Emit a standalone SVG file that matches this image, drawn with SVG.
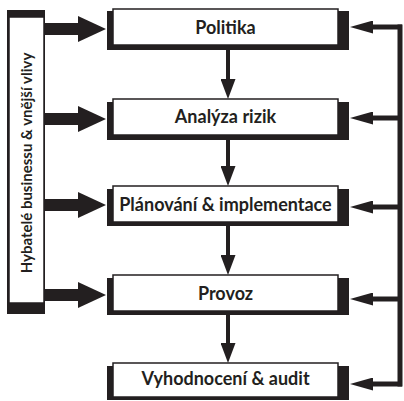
<svg xmlns="http://www.w3.org/2000/svg" width="404" height="401" viewBox="0 0 404 401">
  <style>
    .back { fill: #231f20; }
    .face { fill: #ffffff; stroke: #231f20; stroke-width: 1.5; }
    .lbl { font-family: Lato, "Open Sans", "Liberation Sans", sans-serif; font-weight: bold; font-size: 18px; fill: #231f20; text-anchor: middle; }
    .side { font-size: 15px; }
    .drive { stroke: #231f20; stroke-width: 12; fill: none; marker-end: url(#bigHead); }
    .flow { stroke: #231f20; stroke-width: 4; fill: none; marker-end: url(#downHead); }
    .loop { stroke: #231f20; stroke-width: 5; fill: none; }
    .back-arrow { stroke: #231f20; stroke-width: 5; fill: none; marker-end: url(#smallHead); }
  </style>
  <defs>
    <marker id="bigHead" markerUnits="userSpaceOnUse" viewBox="0 0 28 26" markerWidth="28" markerHeight="26" refX="0" refY="13" orient="auto">
      <path d="M0,0 L28,13 L0,26 z" fill="#231f20"/>
    </marker>
    <marker id="downHead" markerUnits="userSpaceOnUse" viewBox="0 0 20 15" markerWidth="20" markerHeight="15" refX="0" refY="7.5" orient="auto">
      <path d="M0,0 L20,7.5 L0,15 z" fill="#231f20"/>
    </marker>
    <marker id="smallHead" markerUnits="userSpaceOnUse" viewBox="0 0 23 13" markerWidth="23" markerHeight="13" refX="0" refY="6.5" orient="auto">
      <path d="M0,0 L23,6.5 L0,13 z" fill="#231f20"/>
    </marker>
  </defs>

  <!-- connectors -->
  <g id="connectors">
    <!-- drivers into each stage -->
    <line class="drive" x1="45" y1="29" x2="78" y2="29"/>
    <line class="drive" x1="45" y1="119" x2="78" y2="119"/>
    <line class="drive" x1="45" y1="205" x2="78" y2="205"/>
    <line class="drive" x1="45" y1="295" x2="78" y2="295"/>
    <!-- main sequence -->
    <line class="flow" x1="228" y1="50" x2="228" y2="79"/>
    <line class="flow" x1="228" y1="140" x2="228" y2="166"/>
    <line class="flow" x1="228" y1="226" x2="228" y2="255"/>
    <line class="flow" x1="228" y1="315" x2="228" y2="343"/>
    <!-- feedback loop on the right -->
    <line class="loop" x1="400" y1="24.5" x2="400" y2="386.5"/>
    <line class="back-arrow" x1="402" y1="27" x2="373" y2="27"/>
    <line class="back-arrow" x1="402" y1="118" x2="373" y2="118"/>
    <line class="back-arrow" x1="402" y1="207" x2="373" y2="207"/>
    <line class="back-arrow" x1="402" y1="299" x2="373" y2="299"/>
    <line class="back-arrow" x1="402" y1="384" x2="373" y2="384"/>
  </g>

  <!-- side box -->
  <g id="drivers">
    <rect class="back" x="7" y="10" width="38" height="304"/>
    <rect class="face" x="9" y="17" width="35" height="286"/>
    <text class="lbl side" transform="translate(32,163) rotate(-90)">Hybatelé businessu &amp; vnější vlivy</text>
  </g>

  <g id="politika">
    <rect class="back" x="107" y="11" width="242" height="39"/>
    <rect class="face" x="113" y="9" width="225" height="36"/>
    <text class="lbl" x="225.5" y="34">Politika</text>
  </g>

  <g id="analyza">
    <rect class="back" x="107" y="102" width="242" height="38"/>
    <rect class="face" x="113" y="99" width="225" height="36"/>
    <text class="lbl" x="225.5" y="123">Analýza rizik</text>
  </g>

  <g id="planovani">
    <rect class="back" x="107" y="189" width="242" height="37"/>
    <rect class="face" x="113" y="186" width="225" height="36"/>
    <text class="lbl" x="225.5" y="211">Plánování &amp; implementace</text>
  </g>

  <g id="provoz">
    <rect class="back" x="107" y="278" width="242" height="37"/>
    <rect class="face" x="113" y="275" width="225" height="36"/>
    <text class="lbl" x="225.5" y="300">Provoz</text>
  </g>

  <g id="vyhodnoceni">
    <rect class="back" x="107" y="366" width="242" height="34"/>
    <rect class="face" x="113" y="363" width="225" height="34"/>
    <text class="lbl" x="225.5" y="385">Vyhodnocení &amp; audit</text>
  </g>
</svg>
